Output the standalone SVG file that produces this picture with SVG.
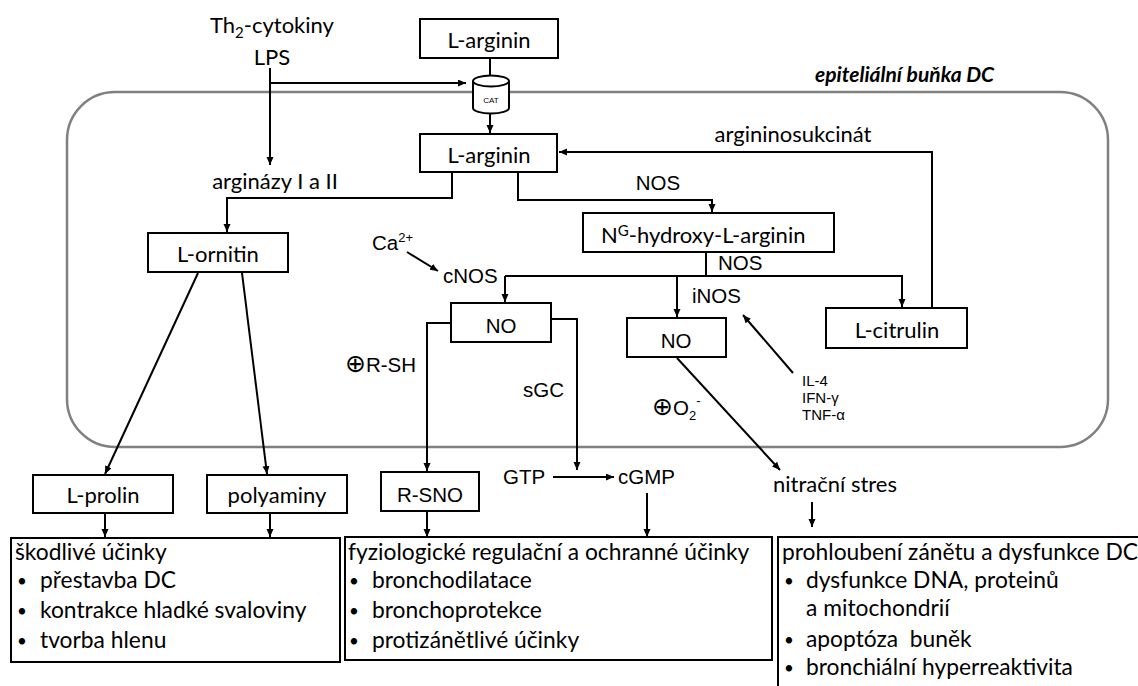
<svg xmlns="http://www.w3.org/2000/svg" width="1138" height="686" viewBox="0 0 1138 686">
<defs>
<marker id="ah" markerUnits="userSpaceOnUse" markerWidth="10" markerHeight="8" refX="8" refY="3.5" orient="auto">
<path d="M0,0 L8,3.5 L0,7 z" fill="#000"/>
</marker>
<style>
.c{font-family:Lato,"Open Sans",sans-serif;font-size:22px;fill:#000}
.t{font-size:22.8px;white-space:pre}
.b{font-family:Lato,sans-serif;font-size:17px;fill:#000}
.a{font-family:"Liberation Sans",Arial,sans-serif;font-size:20.5px;fill:#000}
.s{font-family:"Liberation Sans",Arial,sans-serif;font-size:15px;fill:#000}
.m{text-anchor:middle}
.box{fill:#fff;stroke:#000;stroke-width:2}
.ln{fill:none;stroke:#000;stroke-width:2}
.ar{fill:none;stroke:#000;stroke-width:2;marker-end:url(#ah)}
.op{font-family:"DejaVu Sans",sans-serif;font-size:25px}
</style>
</defs>
<rect width="1138" height="686" fill="#fff"/>
<g id="cell">
<rect x="67" y="92" width="1041" height="355" rx="48" ry="48" fill="none" stroke="#808080" stroke-width="2.5"/>
<text x="815" y="82" class="c" style="font-size:21px;font-weight:bold;font-style:italic">epiteliální buňka DC</text>
</g>
<g id="connectors">
<path class="ln" d="M490,58 V75"/>
<path class="ar" d="M490,113 V133"/>
<path class="ar" d="M270,68 V165"/>
<path class="ar" d="M270,83 H466"/>
<path class="ar" d="M452,172 V198 H227 V232"/>
<path class="ar" d="M518,172 V200 H712 V212"/>
<path class="ar" d="M932,308 V152 H559"/>
<path class="ln" d="M706,252 V276"/>
<path class="ar" d="M505,276 H902 V307"/>
<path class="ar" d="M505,276 V302"/>
<path class="ar" d="M677,276 V317"/>
<path class="ar" d="M407,252 L438,271"/>
<path class="ar" d="M793,373 L743,315"/>
<path class="ar" d="M198,273 L105,474"/>
<path class="ar" d="M242,273 L267,474"/>
<path class="ar" d="M451,323 H427 V471"/>
<path class="ar" d="M551,319 H577 V470"/>
<path class="ar" d="M553,477 H614"/>
<path class="ar" d="M677,358 L780,470"/>
<path class="ar" d="M427,511 V537"/>
<path class="ar" d="M647,493 V537"/>
<path class="ar" d="M812,502 V527"/>
<path class="ar" d="M105,513 V537"/>
<path class="ar" d="M270,513 V537"/>
</g>
<g id="cytokiny">
<text x="210" y="33" class="c">Th<tspan dy="5" style="font-size:15px">2</tspan><tspan dy="-5">-cytokiny</tspan></text>
<text x="272" y="65" class="c m">LPS</text>
</g>
<g id="arginin-top">
<rect class="box" x="420" y="19" width="138" height="39"/>
<text x="489" y="48" class="c m">L-arginin</text>
</g>
<g id="cat">
<path d="M473,81 V108 A18,5.5 0 0 0 509,108 V81" fill="#fff" stroke="#000" stroke-width="2"/>
<ellipse cx="491" cy="81" rx="18" ry="5.5" fill="#fff" stroke="#000" stroke-width="2"/>
<text x="491" y="103" class="s m" style="font-size:8px">CAT</text>
</g>
<g id="arginin">
<rect class="box" x="420" y="134" width="137" height="38"/>
<text x="489" y="163" class="c m">L-arginin</text>
</g>
<g id="labels">
<text x="793" y="142" class="c m">argininosukcinát</text>
<text x="275" y="189" class="c m">arginázy I a II</text>
<text x="658" y="190" class="a m">NOS</text>
<text x="372" y="250" class="a">Ca<tspan dy="-8" style="font-size:13px">2+</tspan></text>
<text x="443" y="283" class="a">cNOS</text>
<text x="718" y="270" class="a">NOS</text>
<text x="692" y="303" class="a">iNOS</text>
<text x="345" y="372" class="a"><tspan class="op">⊕</tspan>R-SH</text>
<text x="523" y="397" class="a">sGC</text>
<text x="652" y="415" class="a"><tspan class="op">⊕</tspan>O<tspan dy="5" style="font-size:13px">2</tspan><tspan dy="-15" style="font-size:13px">-</tspan></text>
<text x="802" y="386" class="s">IL-4</text>
<text x="802" y="403" class="s">IFN-γ</text>
<text x="802" y="420" class="s">TNF-α</text>
<text x="503" y="484" class="a">GTP</text>
<text x="618" y="484" class="a">cGMP</text>
<text x="773" y="492" class="c">nitrační stres</text>
</g>
<g id="ornitin">
<rect class="box" x="148" y="233" width="140" height="39"/>
<text x="218" y="262" class="c m">L-ornitin</text>
</g>
<g id="hydroxyarginin">
<rect class="box" x="583" y="213" width="251" height="39"/>
<text x="601" y="243" class="c">N<tspan dy="-7" style="font-size:15px">G</tspan><tspan dy="7">-hydroxy-L-arginin</tspan></text>
</g>
<g id="no-c">
<rect class="box" x="451" y="303" width="100" height="39"/>
<text x="501" y="333" class="a m">NO</text>
</g>
<g id="no-i">
<rect class="box" x="627" y="318" width="99" height="39"/>
<text x="676" y="348" class="a m">NO</text>
</g>
<g id="citrulin">
<rect class="box" x="826" y="308" width="141" height="40"/>
<text x="897" y="338" class="c m">L-citrulin</text>
</g>
<g id="prolin">
<rect class="box" x="33" y="475" width="140" height="38"/>
<text x="103" y="503" class="c m">L-prolin</text>
</g>
<g id="polyaminy">
<rect class="box" x="207" y="475" width="140" height="38"/>
<text x="277" y="503" class="c m">polyaminy</text>
</g>
<g id="rsno">
<rect class="box" x="381" y="472" width="98" height="39"/>
<text x="430" y="502" class="a m">R-SNO</text>
</g>
<g id="skodlive">
<rect class="box" x="11" y="538" width="329" height="124"/>
<text x="15" y="560" class="c t">škodlivé účinky</text>
<text x="17" y="587" class="b">•</text><text x="40" y="588" class="c t">přestavba DC</text>
<text x="17" y="617" class="b">•</text><text x="40" y="618" class="c t">kontrakce hladké svaloviny</text>
<text x="17" y="647" class="b">•</text><text x="40" y="648" class="c t">tvorba hlenu</text>
</g>
<g id="fyziologicke">
<rect class="box" x="345" y="537" width="427" height="123"/>
<text x="348" y="560" class="c t">fyziologické regulační a ochranné účinky</text>
<text x="349" y="587" class="b">•</text><text x="372" y="588" class="c t">bronchodilatace</text>
<text x="349" y="617" class="b">•</text><text x="372" y="618" class="c t">bronchoprotekce</text>
<text x="349" y="647" class="b">•</text><text x="372" y="648" class="c t">protizánětlivé účinky</text>
</g>
<g id="prohloubeni">
<rect class="box" x="778" y="537" width="370" height="160"/>
<text x="782" y="560" class="c t">prohloubení zánětu a dysfunkce DC</text>
<text x="784" y="587" class="b">•</text><text x="806" y="588" class="c t">dysfunkce DNA, proteinů</text>
<text x="806" y="616" class="c t">a mitochondrií</text>
<text x="784" y="646" class="b">•</text><text x="806" y="647" class="c t">apoptóza  buněk</text>
<text x="784" y="674" class="b">•</text><text x="806" y="675" class="c t">bronchiální hyperreaktivita</text>
</g>
</svg>
